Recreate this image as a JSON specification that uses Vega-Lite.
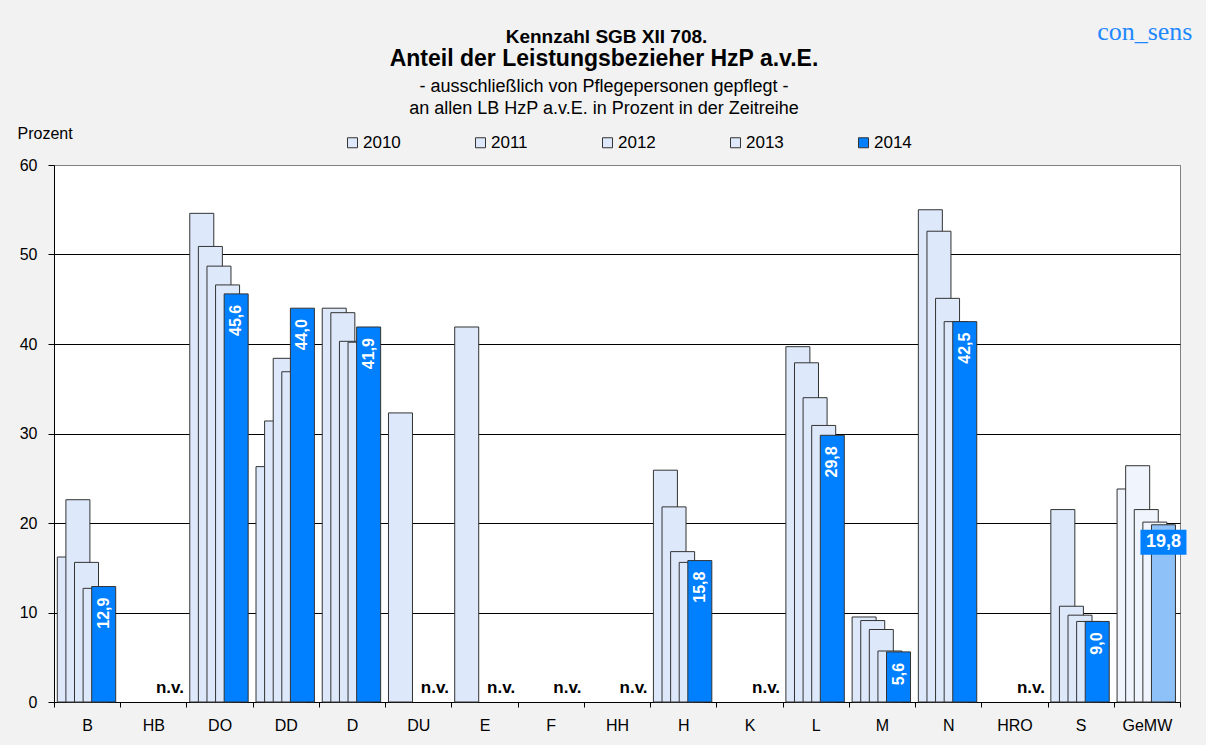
{
  "$schema": "https://vega.github.io/schema/vega-lite/v6.json",
  "width": 1126,
  "height": 537,
  "autosize": {"type": "none"},
  "padding": {"left": 54, "top": 165, "right": 26, "bottom": 43},
  "background": "#F2F2F2",
  "config": {
    "font": "Liberation Sans",
    "locale": {"number": {"decimal": ",", "thousands": ".", "grouping": [3], "currency": ["", " €"]}},
    "view": {"fill": "white", "stroke": "#808080", "strokeWidth": 1}
  },
  "title": {
    "text": "Anteil der Leistungsbezieher HzP a.v.E.",
    "subtitle": ["- ausschließlich von Pflegepersonen gepflegt -", "an allen LB HzP a.v.E. in Prozent in der Zeitreihe"],
    "anchor": "middle",
    "frame": "group",
    "dx": -13,
    "offset": -100,
    "font": "Liberation Sans",
    "fontSize": 23,
    "fontWeight": "bold",
    "color": "black",
    "subtitleFont": "Liberation Sans",
    "subtitleFontSize": 18,
    "subtitleColor": "black",
    "subtitlePadding": 7,
    "subtitleLineHeight": 22
  },
  "data": {
    "values": [
      {"region": "B", "year": 2010, "value": 16.2}, {"region": "B", "year": 2011, "value": 22.6}, {"region": "B", "year": 2012, "value": 15.6}, {"region": "B", "year": 2013, "value": 12.7}, {"region": "B", "year": 2014, "value": 12.9},
      {"region": "HB", "year": 2010, "value": null}, {"region": "HB", "year": 2011, "value": null}, {"region": "HB", "year": 2012, "value": null}, {"region": "HB", "year": 2013, "value": null}, {"region": "HB", "year": 2014, "value": null},
      {"region": "DO", "year": 2010, "value": 54.6}, {"region": "DO", "year": 2011, "value": 50.9}, {"region": "DO", "year": 2012, "value": 48.7}, {"region": "DO", "year": 2013, "value": 46.6}, {"region": "DO", "year": 2014, "value": 45.6},
      {"region": "DD", "year": 2010, "value": 26.3}, {"region": "DD", "year": 2011, "value": 31.4}, {"region": "DD", "year": 2012, "value": 38.4}, {"region": "DD", "year": 2013, "value": 36.9}, {"region": "DD", "year": 2014, "value": 44.0},
      {"region": "D", "year": 2010, "value": 44.0}, {"region": "D", "year": 2011, "value": 43.5}, {"region": "D", "year": 2012, "value": 40.3}, {"region": "D", "year": 2013, "value": 40.2}, {"region": "D", "year": 2014, "value": 41.9},
      {"region": "DU", "year": 2010, "value": 32.3}, {"region": "DU", "year": 2011, "value": null}, {"region": "DU", "year": 2012, "value": null}, {"region": "DU", "year": 2013, "value": null}, {"region": "DU", "year": 2014, "value": null},
      {"region": "E", "year": 2010, "value": 41.9}, {"region": "E", "year": 2011, "value": null}, {"region": "E", "year": 2012, "value": null}, {"region": "E", "year": 2013, "value": null}, {"region": "E", "year": 2014, "value": null},
      {"region": "F", "year": 2010, "value": null}, {"region": "F", "year": 2011, "value": null}, {"region": "F", "year": 2012, "value": null}, {"region": "F", "year": 2013, "value": null}, {"region": "F", "year": 2014, "value": null},
      {"region": "HH", "year": 2010, "value": null}, {"region": "HH", "year": 2011, "value": null}, {"region": "HH", "year": 2012, "value": null}, {"region": "HH", "year": 2013, "value": null}, {"region": "HH", "year": 2014, "value": null},
      {"region": "H", "year": 2010, "value": 25.9}, {"region": "H", "year": 2011, "value": 21.8}, {"region": "H", "year": 2012, "value": 16.8}, {"region": "H", "year": 2013, "value": 15.6}, {"region": "H", "year": 2014, "value": 15.8},
      {"region": "K", "year": 2010, "value": null}, {"region": "K", "year": 2011, "value": null}, {"region": "K", "year": 2012, "value": null}, {"region": "K", "year": 2013, "value": null}, {"region": "K", "year": 2014, "value": null},
      {"region": "L", "year": 2010, "value": 39.7}, {"region": "L", "year": 2011, "value": 37.9}, {"region": "L", "year": 2012, "value": 34.0}, {"region": "L", "year": 2013, "value": 30.9}, {"region": "L", "year": 2014, "value": 29.8},
      {"region": "M", "year": 2010, "value": 9.5}, {"region": "M", "year": 2011, "value": 9.1}, {"region": "M", "year": 2012, "value": 8.1}, {"region": "M", "year": 2013, "value": 5.7}, {"region": "M", "year": 2014, "value": 5.6},
      {"region": "N", "year": 2010, "value": 55.0}, {"region": "N", "year": 2011, "value": 52.6}, {"region": "N", "year": 2012, "value": 45.1}, {"region": "N", "year": 2013, "value": 42.5}, {"region": "N", "year": 2014, "value": 42.5},
      {"region": "HRO", "year": 2010, "value": null}, {"region": "HRO", "year": 2011, "value": null}, {"region": "HRO", "year": 2012, "value": null}, {"region": "HRO", "year": 2013, "value": null}, {"region": "HRO", "year": 2014, "value": null},
      {"region": "S", "year": 2010, "value": 21.5}, {"region": "S", "year": 2011, "value": 10.7}, {"region": "S", "year": 2012, "value": 9.7}, {"region": "S", "year": 2013, "value": 9.0}, {"region": "S", "year": 2014, "value": 9.0},
      {"region": "GeMW", "year": 2010, "value": 23.8}, {"region": "GeMW", "year": 2011, "value": 26.4}, {"region": "GeMW", "year": 2012, "value": 21.5}, {"region": "GeMW", "year": 2013, "value": 20.1}, {"region": "GeMW", "year": 2014, "value": 19.8}
    ]
  },
  "encoding": {
    "x": {
      "field": "region", "type": "nominal",
      "scale": {"type": "band", "paddingInner": 0, "paddingOuter": 0,
        "domain": ["B", "HB", "DO", "DD", "D", "DU", "E", "F", "HH", "H", "K", "L", "M", "N", "HRO", "S", "GeMW"]}
    },
    "xOffset": {
      "field": "year", "type": "nominal",
      "scale": {"type": "band", "paddingInner": 0, "paddingOuter": 0, "domain": [2010, 2011, 2012, 2013, 2014], "range": [11, 54]}
    }
  },
  "layer": [
    {
      "mark": {"type": "bar", "width": 24, "stroke": "#333333", "strokeWidth": 1, "opacity": 1},
      "encoding": {
        "x": {
          "field": "region", "type": "nominal",
          "axis": {
            "orient": "bottom", "title": null, "labelAngle": 0, "labelFontSize": 16, "labelColor": "black",
            "labelPadding": 10, "tickSize": 5, "tickColor": "black", "tickBand": "extent",
            "domainColor": "black", "grid": false
          }
        },
        "y": {
          "field": "value", "type": "quantitative",
          "scale": {"domain": [0, 60], "nice": false},
          "axis": {
            "orient": "left", "values": [0, 10, 20, 30, 40, 50, 60],
            "title": "Prozent", "titleAngle": 0, "titleAlign": "left", "titleBaseline": "middle",
            "titleX": -37, "titleY": -32, "titleFontSize": 16, "titleFontWeight": "normal", "titleColor": "black",
            "labelFontSize": 16, "labelColor": "black", "labelPadding": 11, "tickSize": 6, "tickColor": "black",
            "domainColor": "black", "grid": true, "gridColor": {"condition": {"test": "datum.value === 60", "value": "#808080"}, "value": "black"}, "gridOpacity": 1
          }
        },
        "color": {
          "field": "year", "type": "nominal",
          "condition": [
            {"test": "datum.region === 'GeMW' && datum.year === 2014", "value": "#8EC1F7"},
            {"test": "datum.region === 'GeMW'", "value": "#EFF4FD"}
          ],
          "scale": {"domain": [2010, 2011, 2012, 2013, 2014], "range": ["#DDE8FB", "#DDE8FB", "#DDE8FB", "#DDE8FB", "#0080FF"]},
          "legend": {
            "orient": "none", "legendX": 290, "legendY": -31, "direction": "horizontal", "columns": 5,
            "title": null, "padding": 0, "columnPadding": 71, "symbolType": "square", "symbolSize": 100,
            "symbolStrokeColor": "#333333", "symbolStrokeWidth": 1, "symbolOpacity": 1,
            "labelFontSize": 17, "labelColor": "black", "labelOffset": 2
          }
        }
      }
    },
    {
      "transform": [{"filter": "datum.year === 2014 && datum.value === null"}],
      "mark": {"type": "text", "text": "n.v.", "fontWeight": "bold", "fontSize": 17, "color": "black", "baseline": "alphabetic", "dy": -9},
      "encoding": {
        "x": {
          "field": "region", "type": "nominal",
          "axis": {
            "orient": "top", "title": "Kennzahl SGB XII 708.", "titleFontSize": 19, "titleFontWeight": "bold", "titleColor": "black",
            "titleX": 552, "titleY": -129, "titleAlign": "center", "titleBaseline": "middle",
            "labels": false, "ticks": false, "domain": false, "grid": false
          }
        },
        "y": {
          "datum": 0, "type": "quantitative",
          "axis": {
            "orient": "right", "title": "con_sens", "titleFont": "Liberation Serif", "titleFontSize": 26, "titleFontWeight": "normal",
            "titleColor": "#1E88FF", "titleAngle": 0, "titleAlign": "right", "titleBaseline": "middle", "titleX": 12, "titleY": -134,
            "labels": false, "ticks": false, "domain": false, "grid": false
          }
        }
      }
    },
    {
      "transform": [{"filter": "datum.year === 2014 && datum.value !== null && datum.region !== 'GeMW'"}],
      "mark": {"type": "text", "angle": 270, "align": "right", "baseline": "middle", "dx": -11, "fontWeight": "bold", "fontSize": 16, "color": "white"},
      "encoding": {
        "x": {"field": "region", "type": "nominal", "axis": null},
        "y": {"field": "value", "type": "quantitative", "axis": null},
        "text": {"field": "value", "type": "quantitative", "format": ".1f"}
      }
    },
    {
      "transform": [{"filter": "datum.year === 2014 && datum.region === 'GeMW'"}],
      "mark": {"type": "point", "shape": "M-1,0.217H1V1.304H-1Z", "size": 2116, "filled": true, "color": "#0080FF", "opacity": 1, "strokeWidth": 0},
      "encoding": {
        "x": {"field": "region", "type": "nominal", "axis": null},
        "y": {"field": "value", "type": "quantitative", "axis": null}
      }
    },
    {
      "transform": [{"filter": "datum.year === 2014 && datum.region === 'GeMW'"}],
      "mark": {"type": "text", "align": "center", "baseline": "middle", "dy": 17, "fontWeight": "bold", "fontSize": 18, "color": "white"},
      "encoding": {
        "x": {"field": "region", "type": "nominal", "axis": null},
        "y": {"field": "value", "type": "quantitative", "axis": null},
        "text": {"field": "value", "type": "quantitative", "format": ".1f"}
      }
    }
  ],
  "resolve": {"axis": {"x": "independent", "y": "independent"}}
}
